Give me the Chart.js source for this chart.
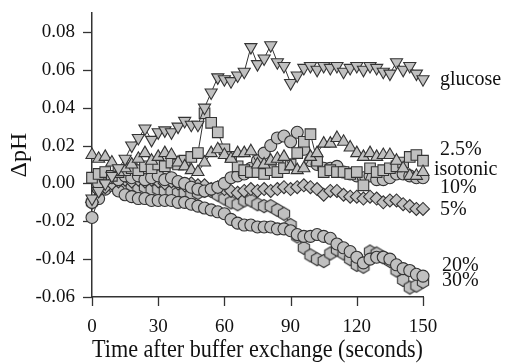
<!DOCTYPE html>
<html><head><meta charset="utf-8">
<style>html,body{margin:0;padding:0;background:#fff;}#wrap{width:506px;height:363px;}</style>
<script src="https://cdn.jsdelivr.net/npm/chart.js@4.4.1/dist/chart.umd.min.js"></script>
</head><body><div id="wrap"><canvas id="c" width="506" height="363"></canvas></div>
<script>
const times = [0,3,6,9,12,15,18,21,24,27,30,33,36,39,42,45,48,51,54,57,60,63,66,69,72,75,78,81,84,87,90,93,96,99,102,105,108,111,114,117,120,123,126,129,132,135,138,141,144,147,150];

const glucose = [-0.008,-0.004,0.000,0.004,0.008,0.013,0.020,0.024,0.029,0.023,
 0.027,0.028,0.027,0.030,0.033,0.031,0.031,0.040,0.048,0.056,
 0.055,0.054,0.057,0.059,0.072,0.063,0.066,0.073,0.064,0.062,
 0.053,0.057,0.061,0.062,0.060,0.062,0.061,0.062,0.059,0.061,
 0.062,0.060,0.062,0.061,0.059,0.058,0.064,0.060,0.062,0.058,0.055];
const pct2_5 = [0.015,0.013,0.014,0.011,0.006,0.008,0.010,0.013,0.016,0.012,
 0.014,0.016,0.015,0.011,0.009,0.007,0.006,0.011,0.016,0.018,
 0.015,0.013,0.016,0.016,0.017,0.010,0.010,0.012,0.013,0.014,
 0.009,0.007,0.008,0.014,0.016,0.021,0.021,0.024,0.022,0.019,
 0.016,0.014,0.016,0.014,0.015,0.015,0.012,0.008,0.004,0.004,0.006];
const isotonic = [0.003,0.005,0.006,0.004,0.006,0.007,0.008,0.007,0.009,0.008,
 0.010,0.009,0.011,0.010,0.012,0.014,0.016,0.037,0.032,0.027,
 0.018,0.014,0.009,0.007,0.006,0.006,0.005,0.007,0.006,0.008,
 0.010,0.016,0.022,0.026,0.012,0.006,0.007,0.006,0.006,0.005,
 0.006,-0.001,0.008,0.006,0.007,0.008,0.009,0.011,0.014,0.015,0.012];
const pct10 = [-0.010,0.000,0.002,0.003,0.002,0.004,0.003,0.004,0.002,0.003,
 0.004,0.002,0.003,0.001,0.000,-0.002,-0.003,-0.004,-0.003,-0.002,
 0.000,0.003,0.004,0.005,0.008,0.012,0.016,0.020,0.024,0.025,
 0.022,0.027,0.018,0.012,0.010,0.008,0.008,0.009,0.006,0.005,
 0.004,0.003,0.004,0.002,0.002,0.003,0.005,0.005,0.004,0.003,0.003];
const pct5 = [-0.010,-0.004,-0.002,0.000,0.001,0.002,0.001,0.002,0.001,0.002,
 0.001,0.000,0.001,0.000,-0.001,0.000,-0.001,-0.001,-0.003,-0.002,
 -0.003,-0.004,-0.005,-0.004,-0.003,-0.004,-0.003,-0.004,-0.003,-0.002,
 -0.003,-0.002,-0.001,-0.002,-0.003,-0.006,-0.004,-0.004,-0.006,-0.007,
 -0.007,-0.008,-0.007,-0.008,-0.010,-0.009,-0.009,-0.011,-0.012,-0.0135,-0.0135];
const pct20 = [-0.018,-0.008,-0.003,-0.001,-0.004,-0.006,-0.007,-0.008,-0.008,-0.009,
 -0.009,-0.009,-0.009,-0.010,-0.010,-0.011,-0.012,-0.013,-0.014,-0.015,
 -0.016,-0.019,-0.021,-0.022,-0.022,-0.023,-0.023,-0.023,-0.024,-0.024,
 -0.025,-0.027,-0.028,-0.028,-0.027,-0.028,-0.029,-0.032,-0.034,-0.036,
 -0.039,-0.042,-0.040,-0.039,-0.039,-0.040,-0.043,-0.045,-0.046,-0.048,-0.049];
const pct30 = [-0.010,-0.002,0.002,0.000,-0.001,-0.002,-0.001,-0.002,-0.002,-0.003,
 -0.003,-0.004,-0.004,-0.005,-0.005,-0.006,-0.005,-0.004,-0.004,-0.006,
 -0.008,-0.010,-0.011,-0.009,-0.009,-0.011,-0.012,-0.012,-0.014,-0.016,
 -0.022,-0.028,-0.034,-0.038,-0.040,-0.041,-0.037,-0.035,-0.037,-0.040,
 -0.043,-0.044,-0.036,-0.037,-0.039,-0.041,-0.046,-0.051,-0.055,-0.054,-0.052];

const seriesNames = ['glucose','2.5%','isotonic','10%','5%','20%','30%'];
const labelValues = [0.0547, 0.0179, 0.0074, -0.0021, -0.0137, -0.0437, -0.0516];
const labelX = [440, 440, 434, 440, 440, 442, 442];
const xTickLabels = [0,30,60,90,120,150];
const yTickLabels = [-0.06,-0.04,-0.02,0.00,0.02,0.04,0.06,0.08];

const SERIF = '"Liberation Serif","DejaVu Serif",serif';
const FILL = '#c0c0c0';
const EDGE = '#333333';

function makeHex(r){
  const s = Math.ceil(2*r+3);
  const c = document.createElement('canvas'); c.width = s; c.height = s;
  const g = c.getContext('2d');
  g.beginPath();
  for (let i=0;i<6;i++){ const a = Math.PI/3*i - Math.PI/2; const x = s/2 + r*Math.cos(a), y = s/2 + r*Math.sin(a); if(i) g.lineTo(x,y); else g.moveTo(x,y); }
  g.closePath(); g.fillStyle = FILL; g.fill(); g.lineWidth = 1.1; g.strokeStyle = EDGE; g.stroke();
  return c;
}
const hex = makeHex(6.5);

function pts(vals){ return times.map((t,i)=>({x:t,y:vals[i]})); }
function ds(label, vals, style, radius, rotation){
  return {label, data: pts(vals), pointStyle: style, pointRadius: radius, pointRotation: rotation||0,
    pointBackgroundColor: FILL, pointBorderColor: EDGE, pointBorderWidth: 1.1,
    borderColor: '#333', borderWidth: 1, showLine: true, fill: false, tension: 0, clip: false};
}

const datasets = [
  ds(seriesNames[0], glucose, 'triangle', 7, 180),
  ds(seriesNames[1], pct2_5, 'triangle', 7, 0),
  ds(seriesNames[2], isotonic, 'rect', 7.5, 0),
  ds(seriesNames[3], pct10, 'circle', 6, 0),
  ds(seriesNames[4], pct5, 'rectRot', 6.5, 0),
  ds(seriesNames[5], pct20, 'circle', 6, 0),
  ds(seriesNames[6], pct30, hex, 6.5, 0),
];

const tickPlugin = {
  id: 'ticks',
  beforeDatasetsDraw(chart){
    const ctx = chart.ctx, xs = chart.scales.x, ys = chart.scales.y;
    ctx.save(); ctx.strokeStyle = '#333'; ctx.lineWidth = 1.3;
    xs.ticks.forEach(t=>{
      const px = Math.round(xs.getPixelForValue(t.value))+0.5;
      const major = Math.abs(t.value/30 - Math.round(t.value/30)) < 1e-6;
      ctx.beginPath(); ctx.moveTo(px, xs.top); ctx.lineTo(px, xs.top + (major?9:5)); ctx.stroke();
    });
    ys.ticks.forEach(t=>{
      const py = Math.round(ys.getPixelForValue(t.value))+0.5;
      const major = Math.abs(t.value/0.02 - Math.round(t.value/0.02)) < 1e-6;
      ctx.beginPath(); ctx.moveTo(ys.right, py); ctx.lineTo(ys.right - (major?9:5), py); ctx.stroke();
    });
    ctx.restore();
  }
};
const labelPlugin = {
  id: 'endLabels',
  afterDraw(chart){
    const ctx = chart.ctx, ys = chart.scales.y;
    ctx.save(); ctx.font = '20px ' + SERIF; ctx.fillStyle = '#111'; ctx.textBaseline = 'middle'; ctx.textAlign = 'left';
    seriesNames.forEach((n,i)=>{ ctx.fillText(n, labelX[i], ys.getPixelForValue(labelValues[i])); });
    ctx.restore();
  }
};

new Chart(document.getElementById('c'), {
  type: 'scatter',
  data: { datasets },
  options: {
    responsive: false, animation: false, devicePixelRatio: 1,
    layout: { padding: { left: 0, right: 83, top: 13, bottom: 0 } },
    plugins: { legend: { display: false }, tooltip: { enabled: false } },
    scales: {
      x: {
        type: 'linear', min: 0, max: 150,
        afterBuildTicks: s => { const a=[]; for(let i=0;i<=20;i++) a.push({value: i*7.5}); s.ticks = a; },
        ticks: { autoSkip: false, maxRotation: 0, padding: 0, color: '#111', font: { family: SERIF, size: 19 },
          callback: v => xTickLabels.includes(v) ? String(v) : null },
        grid: { display: true, drawOnChartArea: false, drawTicks: true, tickLength: 19, tickColor: 'rgba(0,0,0,0)' },
        border: { display: true, color: '#333', width: 1.5 },
        title: { display: true, text: 'Time after buffer exchange (seconds)', color: '#111',
          font: { family: SERIF, size: 26, lineHeight: 1 }, padding: { top: 0, bottom: 0 } },
        afterFit: s => { s.height = 66; }
      },
      y: {
        type: 'linear', min: -0.06, max: 0.09,
        afterBuildTicks: s => { const a=[]; for(let i=0;i<=30;i++) a.push({value: Math.round((-0.06 + i*0.005)*1000)/1000}); s.ticks = a; },
        ticks: { autoSkip: false, padding: 0, color: '#111', font: { family: SERIF, size: 19 },
          callback: v => { const m = yTickLabels.find(l => Math.abs(l - v) < 1e-6); return m === undefined ? null : m.toFixed(2); } },
        grid: { display: true, drawOnChartArea: false, drawTicks: true, tickLength: 17, tickColor: 'rgba(0,0,0,0)' },
        border: { display: true, color: '#333', width: 1.5 },
        title: { display: true, text: 'ΔpH', color: '#111',
          font: { family: SERIF, size: 24, lineHeight: 1 }, padding: { top: 8, bottom: 8 } },
        afterFit: s => { s.width = 92; }
      }
    }
  },
  plugins: [tickPlugin, labelPlugin]
});
</script></body></html>
